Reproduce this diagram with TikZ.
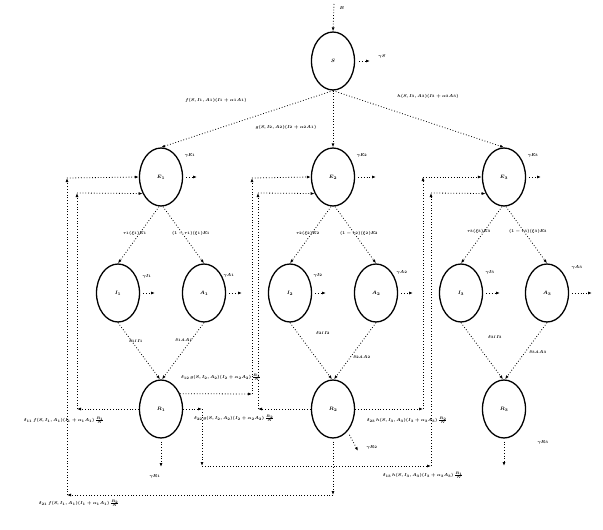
\documentclass[tikz,border=0pt]{standalone}
\usetikzlibrary{shapes.geometric,arrows.meta}
\newcommand\mylab[1]{\scalebox{0.7}{\boldmath$#1$}}
\newcommand\mynd[1]{\scalebox{0.8}{\boldmath$#1$}}
\begin{document}
\begin{tikzpicture}[x=1pt,y=-1pt,
  comp/.style={ellipse,draw,line width=1.3pt,minimum width=43pt,minimum height=58pt,inner sep=0pt,font=\fontsize{6}{7}\selectfont},
  flow/.style={line width=0.8pt,dash pattern=on 0.8pt off 2pt,-{Latex[length=4pt,width=3pt]}},
  lab/.style={font=\fontsize{6}{7}\selectfont,inner sep=0pt}]
\useasboundingbox (0,0) rectangle (603,530);
% compartments
\node[comp] (S) at (333,61) {\mynd{S}};
\node[comp] (E1) at (161,177) {\mynd{E_1}};
\node[comp] (E2) at (333,177) {\mynd{E_2}};
\node[comp] (E3) at (504,177) {\mynd{E_3}};
\node[comp] (I1) at (118,293) {\mynd{I_1}};
\node[comp] (A1) at (204,293) {\mynd{A_1}};
\node[comp] (I2) at (290,293) {\mynd{I_2}};
\node[comp] (A2) at (376,293) {\mynd{A_2}};
\node[comp] (I3) at (461,293) {\mynd{I_3}};
\node[comp] (A3) at (547,293) {\mynd{A_3}};
\node[comp] (R1) at (161,409) {\mynd{R_1}};
\node[comp] (R2) at (333,409) {\mynd{R_2}};
\node[comp] (R3) at (504,409) {\mynd{R_3}};
% recruitment and S
\coordinate (B0) at (334,4);
\draw[flow] (B0) -- (S.north);
\node[lab] at (342,8) {\mylab{B}};
\coordinate (gS) at (370,61);
\draw[flow] ([xshift=4pt]S.east) -- (gS);
\node[lab] at (382,56) {\mylab{\gamma S}};
\draw[flow] (S.south) -- (E1.north);
\draw[flow] (S.south) -- (E2.north);
\draw[flow] (S.south) -- (E3.north);
\node[lab] at (216,100) {\mylab{f(S,I_1,A_1)(I_1+\alpha_1A_1)}};
\node[lab] at (286,127) {\mylab{g(S,I_2,A_2)(I_2+\alpha_2A_1)}};
\node[lab] at (428,96) {\mylab{h(S,I_3,A_3)(I_3+\alpha_3A_3)}};
% E outflows
\coordinate (gE1) at (197,177);
\coordinate (gE2) at (376,177);
\coordinate (gE3) at (541,177);
\draw[flow] ([xshift=3pt]E1.east) -- (gE1);
\draw[flow] ([xshift=3pt]E2.east) -- (gE2);
\draw[flow] ([xshift=3pt]E3.east) -- (gE3);
\node[lab] at (190,155) {\mylab{\gamma E_1}};
\node[lab] at (362,155) {\mylab{\gamma E_2}};
\node[lab] at (533,155) {\mylab{\gamma E_3}};
% E to I and A
\draw[flow] ([xshift=-2pt]E1.south) -- (I1.north);
\draw[flow] ([xshift=2pt]E1.south) -- (A1.north);
\draw[flow] ([xshift=-2pt]E2.south) -- (I2.north);
\draw[flow] ([xshift=2pt]E2.south) -- (A2.north);
\draw[flow] ([xshift=-2pt]E3.south) -- (I3.north);
\draw[flow] ([xshift=2pt]E3.south) -- (A3.north);
\node[lab] at (135,233) {\mylab{r_1(\xi_1)E_1}};
\node[lab] at (191,233) {\mylab{(1-r_1)(\xi_1)E_1}};
\node[lab] at (308,233) {\mylab{r_2(\xi_2)E_2}};
\node[lab] at (359,233) {\mylab{(1-r_2)(\xi_2)E_2}};
\node[lab] at (479,231) {\mylab{r_3(\xi_3)E_3}};
\node[lab] at (528,231) {\mylab{(1-r_3)(\xi_3)E_3}};
% I and A outflows
\coordinate (gI1) at (155,293);
\coordinate (gA1) at (242,293);
\coordinate (gI2) at (326,293);
\coordinate (gA2) at (413,293);
\coordinate (gI3) at (500,293);
\coordinate (gA3) at (592,293);
\draw[flow] ([xshift=3pt]I1.east) -- (gI1);
\draw[flow] ([xshift=3pt]A1.east) -- (gA1);
\draw[flow] ([xshift=3pt]I2.east) -- (gI2);
\draw[flow] ([xshift=3pt]A2.east) -- (gA2);
\draw[flow] ([xshift=3pt]I3.east) -- (gI3);
\draw[flow] ([xshift=3pt]A3.east) -- (gA3);
\node[lab] at (147,276) {\mylab{\gamma I_1}};
\node[lab] at (229,275) {\mylab{\gamma A_1}};
\node[lab] at (318,275) {\mylab{\gamma I_2}};
\node[lab] at (402,272) {\mylab{\gamma A_2}};
\node[lab] at (490,272) {\mylab{\gamma I_3}};
\node[lab] at (577,267) {\mylab{\gamma A_3}};
% I and A to R
\draw[flow] (I1.south) -- ([xshift=-1pt]R1.north);
\draw[flow] (A1.south) -- ([xshift=1pt]R1.north);
\draw[flow] (I2.south) -- ([xshift=-1pt]R2.north);
\draw[flow] (A2.south) -- ([xshift=1pt]R2.north);
\draw[flow] (I3.south) -- ([xshift=-1pt]R3.north);
\draw[flow] (A3.south) -- ([xshift=1pt]R3.north);
\node[lab] at (136,341) {\mylab{\delta_{1I}I_1}};
\node[lab] at (184,340) {\mylab{\delta_{1A}A_1}};
\node[lab] at (323,333) {\mylab{\delta_{2I}I_2}};
\node[lab] at (362,357) {\mylab{\delta_{2A}A_2}};
\node[lab] at (495,337) {\mylab{\delta_{3I}I_3}};
\node[lab] at (538,352) {\mylab{\delta_{3A}A_3}};
% R outflows
\coordinate (gR1) at (161,467);
\coordinate (gR2) at (358,451);
\coordinate (gR3) at (504,466);
\draw[flow] ([yshift=-3pt]R1.south) -- (gR1);
\draw[flow,shorten <=4pt] (R2.-57) -- (gR2);
\draw[flow] ([yshift=-3pt]R3.south) -- (gR3);
\node[lab] at (155,476) {\mylab{\gamma R_1}};
\node[lab] at (372,447) {\mylab{\gamma R_2}};
\node[lab] at (543,442) {\mylab{\gamma R_3}};
% reinfection loops
\coordinate (a1) at (333,495);
\coordinate (a2) at (67,495);
\coordinate (a3) at (67,178);
\draw[flow] ([yshift=-3pt]R2.south) -- (a1);
\draw[flow] (a1) -- (a2);
\draw[flow] (a2) -- (a3);
\draw[flow] (a3) -- (E1.west);
\coordinate (b1) at (77,409);
\coordinate (b2) at (77,193);
\draw[flow] (R1.west) -- (b1);
\draw[flow] (b1) -- (b2);
\draw[flow] (b2) -- (E1.222);
\coordinate (c1) at (252,394);
\coordinate (c2) at (252,178);
\draw[flow] (R1.39) -- (c1);
\draw[flow] (c1) -- (c2);
\draw[flow] (c2) -- (E2.west);
\coordinate (d1) at (202,409);
\coordinate (d2) at (202,466);
\coordinate (d3) at (431,466);
\coordinate (d4) at (431,193);
\draw[flow] (R1.east) -- (d1);
\draw[flow] (d1) -- (d2);
\draw[flow] (d2) -- (d3);
\draw[flow] (d3) -- (d4);
\draw[flow] (d4) -- (E3.222);
\coordinate (e1) at (258,409);
\coordinate (e2) at (258,193);
\draw[flow] (R2.west) -- (e1);
\draw[flow] (e1) -- (e2);
\draw[flow] (e2) -- (E2.222);
\coordinate (k1) at (423,409);
\coordinate (k2) at (423,177);
\draw[flow] (R2.east) -- (k1);
\draw[flow] (k1) -- (k2);
\draw[flow] (k2) -- (E3.west);
% loop labels
\node[lab] at (64,420) {\mylab{\delta_{11}\,f(S,I_1,A_1)(I_1+\alpha_1A_1)\,\frac{R_1}{N}}};
\node[lab] at (79,503) {\mylab{\delta_{21}\,f(S,I_1,A_1)(I_1+\alpha_1A_1)\,\frac{R_2}{N}}};
\node[lab] at (221,377) {\mylab{\delta_{12}\,g(S,I_2,A_2)(I_2+\alpha_2A_2)\,\frac{R_1}{N}}};
\node[lab] at (234,418) {\mylab{\delta_{22}\,g(S,I_2,A_2)(I_2+\alpha_2A_2)\,\frac{R_2}{N}}};
\node[lab] at (407,420) {\mylab{\delta_{23}\,h(S,I_3,A_3)(I_3+\alpha_3A_3)\,\frac{R_2}{N}}};
\node[lab] at (423,475) {\mylab{\delta_{13}\,h(S,I_3,A_3)(I_3+\alpha_3A_3)\,\frac{R_1}{N}}};
\end{tikzpicture}
\end{document}
